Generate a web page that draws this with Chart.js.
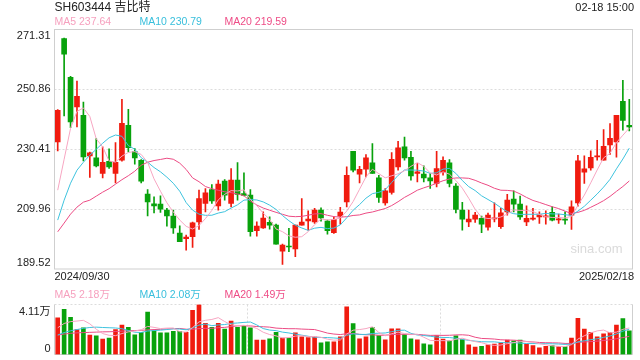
<!DOCTYPE html>
<html><head><meta charset="utf-8">
<script src="https://cdn.jsdelivr.net/npm/chart.js@4/dist/chart.umd.min.js"></script>
<style>
html,body{margin:0;padding:0;background:#fff;width:640px;height:360px;overflow:hidden}
canvas{position:absolute;left:0;top:0}
</style></head>
<body>
<canvas id="cp" width="640" height="360"></canvas>
<canvas id="cv" width="640" height="360"></canvas>
<script>
const title = 'SH603444 吉比特';
const timeText = '02-18 15:00';
const dates = ['2024/09/30',
'2024/10/08','2024/10/09','2024/10/10','2024/10/11','2024/10/14','2024/10/15','2024/10/16','2024/10/17','2024/10/18','2024/10/21','2024/10/22','2024/10/23','2024/10/24','2024/10/25','2024/10/28','2024/10/29','2024/10/30','2024/10/31',
'2024/11/01','2024/11/04','2024/11/05','2024/11/06','2024/11/07','2024/11/08','2024/11/11','2024/11/12','2024/11/13','2024/11/14','2024/11/15','2024/11/18','2024/11/19','2024/11/20','2024/11/21','2024/11/22','2024/11/25','2024/11/26','2024/11/27','2024/11/28','2024/11/29',
'2024/12/02','2024/12/03','2024/12/04','2024/12/05','2024/12/06','2024/12/09','2024/12/10','2024/12/11','2024/12/12','2024/12/13','2024/12/16','2024/12/17','2024/12/18','2024/12/19','2024/12/20','2024/12/23','2024/12/24','2024/12/25','2024/12/26','2024/12/27','2024/12/30','2024/12/31',
'2025/01/02','2025/01/03','2025/01/06','2025/01/07','2025/01/08','2025/01/09','2025/01/10','2025/01/13','2025/01/14','2025/01/15','2025/01/16','2025/01/17','2025/01/20','2025/01/21','2025/01/22','2025/01/23','2025/01/24','2025/01/27',
'2025/02/05','2025/02/06','2025/02/07','2025/02/10','2025/02/11','2025/02/12','2025/02/13','2025/02/14','2025/02/17','2025/02/18'];

const open = [232.90,268.24,254.95,244.83,242.00,228.13,227.45,222.13,226.33,222.13,
226.67,238.59,229.63,226.67,215.08,211.77,211.67,209.63,207.58,201.79,
199.85,200.53,205.64,211.91,216.68,211.09,219.51,211.91,219.85,215.25,
214.74,202.57,203.59,205.43,204.51,195.65,197.36,196.34,204.51,205.98,
205.64,209.63,205.88,201.89,207.58,212.45,229.73,221.90,223.60,225.75,
220.63,212.11,215.66,224.38,231.20,227.69,222.13,221.90,220.63,218.72,
222.47,225.75,217.81,209.63,205.64,206.56,206.80,203.83,206.66,203.94,
209.05,213.38,211.67,205.64,206.56,207.34,207.34,208.84,206.32,206.56,
207.92,212.11,222.58,224.04,227.79,226.67,231.88,232.90,246.77,238.59];
const high = [243.94,268.35,255.29,253.69,246.53,229.49,234.06,231.20,230.52,232.70,
247.45,244.05,230.65,226.91,216.68,214.16,214.50,210.21,209.63,204.28,
201.11,205.54,216.44,217.02,218.38,219.85,220.09,223.84,225.88,222.34,
216.68,205.64,209.05,207.34,204.85,198.04,203.39,204.51,213.61,209.39,
210.21,210.41,206.22,207.34,210.55,224.38,229.73,224.62,228.61,232.36,
221.55,217.02,229.29,233.14,234.61,229.73,225.54,224.72,222.13,229.73,
227.79,226.91,218.72,212.25,209.63,208.84,207.58,208.60,212.11,210.21,
214.98,216.20,214.40,211.09,210.21,209.05,209.39,210.75,208.26,209.05,
212.80,228.37,228.13,229.84,233.48,237.13,239.17,242.00,253.93,247.45];
const low = [229.84,241.76,237.81,238.01,226.43,220.77,224.38,220.63,223.84,218.93,
226.33,229.49,225.30,218.93,207.68,208.71,208.84,204.17,201.69,198.82,
195.99,196.91,203.05,209.05,211.91,209.63,213.03,210.75,213.03,214.50,
200.77,200.77,203.39,203.15,198.04,191.12,195.41,193.71,204.51,202.81,
205.09,205.88,201.45,201.69,204.85,210.75,222.68,218.93,220.97,222.13,
212.25,211.33,215.08,223.26,226.67,219.85,219.27,219.27,217.02,217.57,
221.55,217.57,208.71,202.81,203.94,205.43,201.89,202.81,205.64,203.39,
207.92,209.05,206.46,204.28,206.22,205.09,204.85,205.98,205.09,204.85,
203.05,210.99,218.72,223.26,226.67,226.67,228.61,227.69,236.89,236.65];
const close = [243.71,262.89,239.72,248.48,227.79,229.15,224.72,225.98,224.38,225.98,
239.28,230.99,227.45,219.51,212.45,211.09,209.97,207.68,203.59,198.82,
200.43,205.30,213.61,215.52,212.80,218.49,214.74,219.85,214.98,214.64,
202.23,204.17,206.90,204.51,198.04,197.70,197.02,204.51,205.54,206.56,
209.63,207.00,202.57,206.46,208.95,221.55,223.26,223.60,227.45,222.13,
213.95,216.20,227.01,230.86,227.45,221.32,222.68,220.63,219.61,223.84,
226.67,218.72,209.87,206.56,206.56,207.92,204.85,207.92,207.00,208.71,
213.03,211.67,207.34,206.80,206.90,208.02,207.68,206.22,206.66,206.22,
210.75,226.43,223.70,227.69,228.13,231.44,234.16,242.00,240.30,238.01];

const ma5 = [216.44,227.00,237.57,243.36,244.52,241.61,233.97,231.22,226.40,226.04,
228.07,229.32,229.62,228.64,225.94,220.30,216.09,212.14,208.96,206.23,
204.10,203.16,204.35,206.74,209.53,213.14,215.03,216.28,216.17,216.54,
213.29,211.17,208.58,206.49,203.17,202.26,200.83,200.36,200.56,202.27,
204.65,206.65,206.26,206.44,206.92,209.31,212.56,216.76,220.96,223.60,
222.08,220.67,221.35,222.03,223.09,224.57,225.86,224.59,222.34,221.62,
222.69,221.89,219.74,217.13,213.68,209.93,207.15,206.76,206.85,207.28,
208.30,209.67,209.55,209.51,209.15,208.15,207.35,207.12,207.10,206.96,
207.51,211.26,214.75,218.96,223.34,227.48,229.02,232.68,235.21,237.64];
const ma10 = [206.22,213.03,218.83,223.26,225.98,228.37,230.41,232.46,234.33,235.28,
234.84,231.65,230.42,227.52,225.99,224.18,222.71,220.88,218.80,216.08,
212.20,209.63,208.25,207.85,207.88,208.62,209.10,210.32,211.45,213.04,
213.22,213.10,212.43,211.33,209.86,207.78,206.00,204.47,203.53,202.72,
203.46,203.74,203.31,203.50,204.59,206.98,209.60,211.51,213.70,215.26,
215.69,216.61,219.06,221.50,223.35,223.32,223.27,222.97,222.18,222.36,
223.63,223.88,222.17,219.74,217.65,216.31,214.52,213.25,211.99,210.48,
209.11,208.41,208.16,208.18,208.21,208.22,208.51,208.34,208.30,208.05,
207.83,209.30,210.94,213.03,215.15,217.49,220.14,223.72,227.08,230.79];
const ma20 = [202.23,205.20,208.26,210.65,212.35,213.03,214.40,215.76,216.95,218.49,
220.02,221.38,222.92,224.96,225.98,226.56,226.93,227.35,227.00,225.68,
223.52,220.64,219.33,217.68,216.94,216.40,215.90,215.60,215.13,214.56,
212.71,211.37,210.34,209.59,208.87,208.20,207.55,207.39,207.49,207.88,
208.34,208.42,207.87,207.42,207.22,207.38,207.80,207.99,208.61,208.99,
209.58,210.18,211.18,212.50,213.97,215.15,216.43,217.24,217.94,218.81,
219.66,220.25,220.61,220.62,220.50,219.81,218.89,218.11,217.09,216.42,
216.37,216.14,215.16,213.96,212.93,212.27,211.52,210.79,210.15,209.27,
208.47,208.86,209.55,210.60,211.68,212.86,214.32,216.03,217.69,219.59];

// volume in 万 (10k shares)
const volume = [3.01,3.72,3.06,2.05,2.19,1.59,1.53,1.26,1.34,2.05,
2.41,2.24,1.61,1.83,3.48,1.97,1.78,1.78,1.91,1.91,
1.83,3.64,4.11,2.57,2.24,2.57,2.08,2.74,2.24,2.35,
2.19,1.18,1.18,1.28,1.83,1.34,1.34,1.78,1.45,1.40,
1.45,0.95,1.04,1.04,1.45,3.91,2.55,1.28,1.45,2.22,
1.56,1.20,2.10,2.10,1.64,1.28,1.20,0.87,0.79,1.56,
1.26,1.12,1.53,1.23,0.79,0.62,0.68,0.79,0.85,0.95,
1.18,1.12,1.18,0.85,0.74,0.54,0.68,0.74,0.65,0.65,
1.34,2.98,2.08,1.83,1.45,1.69,1.83,2.41,2.95,1.95];
const vma5 = [2.20,2.55,2.70,2.75,2.81,2.52,2.08,1.72,1.58,1.55,
1.72,1.86,1.93,2.03,2.31,2.23,2.13,2.17,2.18,1.87,
1.84,2.21,2.68,2.81,2.88,3.03,2.71,2.44,2.37,2.40,
2.32,2.14,1.83,1.64,1.53,1.36,1.39,1.51,1.55,1.46,
1.48,1.41,1.26,1.18,1.19,1.68,2.00,2.05,2.13,2.28,
1.81,1.54,1.71,1.84,1.72,1.66,1.66,1.42,1.16,1.14,
1.14,1.12,1.25,1.34,1.19,1.06,0.97,0.82,0.75,0.78,
0.89,0.98,1.06,1.06,1.01,0.89,0.80,0.71,0.67,0.65,
0.81,1.27,1.54,1.78,1.94,2.01,1.78,1.84,2.07,2.18];
const vma10 = [1.60,1.80,1.95,2.05,2.15,2.22,2.25,2.22,2.20,2.18,
2.12,1.97,1.83,1.81,1.93,1.97,2.00,2.05,2.11,2.09,
2.03,2.17,2.42,2.50,2.37,2.43,2.46,2.56,2.59,2.64,
2.67,2.43,2.13,2.01,1.96,1.84,1.77,1.67,1.59,1.50,
1.42,1.40,1.39,1.36,1.32,1.58,1.70,1.65,1.65,1.73,
1.75,1.77,1.88,1.98,2.00,1.74,1.60,1.56,1.50,1.43,
1.40,1.39,1.34,1.25,1.16,1.10,1.05,1.04,1.04,0.98,
0.97,0.97,0.94,0.90,0.90,0.89,0.89,0.88,0.86,0.83,
0.85,1.04,1.13,1.22,1.29,1.41,1.52,1.69,1.92,2.08];
const vma20 = [1.60,1.68,1.74,1.78,1.80,1.82,1.84,1.86,1.87,1.89,
1.92,1.95,1.97,1.99,2.02,2.05,2.07,2.10,2.12,2.14,
2.08,2.07,2.13,2.15,2.15,2.20,2.23,2.30,2.35,2.36,
2.35,2.30,2.28,2.25,2.17,2.14,2.12,2.12,2.09,2.07,
2.05,1.91,1.76,1.68,1.64,1.71,1.73,1.66,1.62,1.62,
1.58,1.59,1.63,1.67,1.66,1.66,1.65,1.61,1.57,1.58,
1.57,1.58,1.61,1.62,1.58,1.42,1.32,1.30,1.27,1.21,
1.19,1.18,1.14,1.07,1.03,0.99,0.97,0.96,0.95,0.91,
0.91,1.00,1.03,1.06,1.10,1.15,1.21,1.29,1.39,1.49];

const priceTicks = [271.31, 250.86, 230.41, 209.96, 189.52];
const volTicks = [4.11, 0];
const volUnit = '万';

const RED = '#f01b0f', GREEN = '#08a20c';
const C5 = '#f7a6c2', C10 = '#3ec3de', C20 = '#ec4b84';
const L5 = '#f6a0be', L10 = '#38bfdc', L20 = '#ee4c86';
const FONT = '"Liberation Sans", Arial, "Noto Sans CJK SC", sans-serif';
const upColors = close.map((c, i) => c >= open[i] ? RED : GREEN);

function dotted(ctx, x1, y1, x2, y2) {
  ctx.save(); ctx.strokeStyle = '#dcdcdc'; ctx.lineWidth = 1; ctx.setLineDash([2, 2]);
  ctx.beginPath(); ctx.moveTo(x1, y1); ctx.lineTo(x2, y2); ctx.stroke(); ctx.restore();
}
function txt(ctx, s, x, y, align, color, size) {
  ctx.save(); ctx.font = size + 'px ' + FONT; ctx.fillStyle = color;
  ctx.textAlign = align; ctx.textBaseline = 'middle'; ctx.fillText(s, x, y); ctx.restore();
}

const pricePlugin = {
  id: 'pricePlugin',
  beforeDatasetsDraw(chart) {
    const { ctx, chartArea: a, scales } = chart;
    priceTicks.slice(1, -1).forEach(v => {
      const y = Math.round(scales.y.getPixelForValue(v)) + 0.5;
      dotted(ctx, a.left, y, a.right, y);
    });
    txt(ctx, 'sina.com', a.right - 10, a.bottom - 20, 'right', '#dadada', 13);
  },
  afterDraw(chart) {
    const { ctx, chartArea: a, scales } = chart;
    ctx.save(); ctx.strokeStyle = '#cfcfcf'; ctx.lineWidth = 1;
    ctx.strokeRect(a.left, a.top, a.right - a.left, a.bottom - a.top); ctx.restore();
    priceTicks.forEach((v, i) => {
      let y = scales.y.getPixelForValue(v);
      if (i === 0) y += 6; else if (i === priceTicks.length - 1) y -= 6;
      txt(ctx, v.toFixed(2), a.left - 4, y, 'right', '#222', 11);
    });
    txt(ctx, title, a.left, 8, 'left', '#222', 12);
    txt(ctx, timeText, a.right + 1.5, 8, 'right', '#222', 11);
    const n = close.length - 1;
    txt(ctx, 'MA5 ' + ma5[n].toFixed(2), a.left, 22, 'left', L5, 10.5);
    txt(ctx, 'MA10 ' + ma10[n].toFixed(2), a.left + 85, 22, 'left', L10, 10.5);
    txt(ctx, 'MA20 ' + ma20[n].toFixed(2), a.left + 170, 22, 'left', L20, 10.5);
    txt(ctx, dates[0], a.left, a.bottom + 8, 'left', '#222', 11);
    txt(ctx, dates[n], a.right + 1.5, a.bottom + 8, 'right', '#222', 11);
  }
};

const volPlugin = {
  id: 'volPlugin',
  beforeDatasetsDraw(chart) {
    const { ctx, chartArea: a } = chart;
    dotted(ctx, a.left, a.top, a.right, a.top);
    [1 / 3, 2 / 3].forEach(f => {
      const x = Math.round(a.left + (a.right - a.left) * f) + 0.5;
      dotted(ctx, x, a.top, x, a.bottom);
    });
    ctx.save(); ctx.strokeStyle = '#cfcfcf'; ctx.lineWidth = 1;
    ctx.beginPath(); ctx.moveTo(a.left, a.top); ctx.lineTo(a.left, a.bottom); ctx.lineTo(a.right, a.bottom); ctx.lineTo(a.right, a.top); ctx.stroke();
    ctx.restore();
  },
  afterDraw(chart) {
    const { ctx, chartArea: a, scales } = chart;
    txt(ctx, volTicks[0].toFixed(2) + volUnit, a.left - 4, scales.y.getPixelForValue(volTicks[0]) + 7, 'right', '#222', 11);
    txt(ctx, String(volTicks[1]), a.left - 4, scales.y.getPixelForValue(volTicks[1]) - 6, 'right', '#222', 11);
    const n = volume.length - 1;
    txt(ctx, 'MA5 ' + vma5[n].toFixed(2) + volUnit, a.left, a.top - 9.5, 'left', L5, 10.5);
    txt(ctx, 'MA10 ' + vma10[n].toFixed(2) + volUnit, a.left + 85, a.top - 9.5, 'left', L10, 10.5);
    txt(ctx, 'MA20 ' + vma20[n].toFixed(2) + volUnit, a.left + 170, a.top - 9.5, 'left', L20, 10.5);
  }
};

function lineDs(data, color, order) {
  return { type: 'line', data, borderColor: color, borderWidth: 1, pointRadius: 0, tension: 0, fill: false, order };
}
const common = {
  responsive: false, animation: false, devicePixelRatio: 1,
  plugins: { legend: { display: false }, tooltip: { enabled: false } },
  events: []
};

new Chart(document.getElementById('cp'), {
  type: 'bar',
  data: {
    labels: dates,
    datasets: [
      { data: low.map((l, i) => [l, high[i]]), backgroundColor: upColors, barThickness: 1, grouped: false, order: 5 },
      { data: open.map((o, i) => [o, close[i]]), backgroundColor: upColors, barThickness: 5, grouped: false, minBarLength: 1, order: 4 },
      lineDs(ma20, C20, 3), lineDs(ma10, C10, 2), lineDs(ma5, C5, 1)
    ]
  },
  options: Object.assign({}, common, {
    layout: { padding: { left: 54.5, right: 7.5, top: 29.5, bottom: 91 } },
    scales: {
      x: { display: false, offset: true },
      y: { display: false, min: priceTicks[priceTicks.length - 1], max: priceTicks[0] }
    }
  }),
  plugins: [pricePlugin]
});

new Chart(document.getElementById('cv'), {
  type: 'bar',
  data: {
    labels: dates,
    datasets: [
      { data: volume, backgroundColor: upColors, barThickness: 4, order: 4 },
      lineDs(vma20, C20, 3), lineDs(vma10, C10, 2), lineDs(vma5, C5, 1)
    ]
  },
  options: Object.assign({}, common, {
    layout: { padding: { left: 54.5, right: 7.5, top: 304.5, bottom: 5.5 } },
    scales: {
      x: { display: false, offset: true },
      y: { display: false, min: volTicks[1], max: volTicks[0] }
    }
  }),
  plugins: [volPlugin]
});
</script>
</body></html>
